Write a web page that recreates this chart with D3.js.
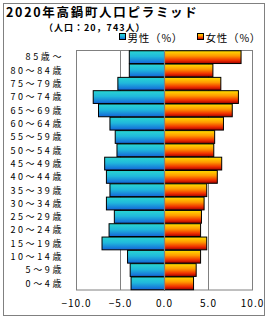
<!DOCTYPE html>
<html>
<head>
<meta charset="utf-8">
<script src="https://cdn.jsdelivr.net/npm/d3@7"></script>
<style>
  body { margin: 0; background: #fff; }
  text { font-family: "Noto Sans CJK JP", sans-serif; }
</style>
</head>
<body>
<svg id="chart" width="270" height="320"></svg>
<script>
const ages = ['85歳～', '80～84歳', '75～79歳', '70～74歳', '65～69歳', '60～64歳', '55～59歳',
  '50～54歳', '45～49歳', '40～44歳', '35～39歳', '30～34歳', '25～29歳', '20～24歳',
  '15～19歳', '10～14歳', '5～9歳', '0～4歳'];
const male = [4.0, 4.0, 5.3, 8.1, 7.5, 6.2, 5.6, 5.4, 6.8, 6.6, 6.2, 6.6, 5.7, 6.3, 7.1, 4.2, 3.9, 3.8];
const female = [8.7, 5.5, 6.4, 8.4, 7.7, 6.7, 5.7, 5.6, 6.5, 6.0, 4.8, 4.5, 4.2, 4.1, 4.8, 4.1, 3.6, 3.3];
const ticks = [-10, -5, 0, 5, 10];

const svg = d3.select('#chart');
const plotL = 76.5, plotR = 252.5, plotT = 50.5, plotB = 290;

const x = d3.scaleLinear().domain([-10, 10]).range([plotL, plotR]);
const y = d3.scaleBand().domain(ages).range([plotT, plotB]).paddingInner(0.04).paddingOuter(0.02);

// gradients
const defs = svg.append('defs');
function grad(id, stops) {
  const g = defs.append('linearGradient').attr('id', id)
    .attr('x1', 0).attr('y1', 0).attr('x2', 0).attr('y2', 1);
  stops.forEach(s => g.append('stop').attr('offset', s[0]).attr('stop-color', s[1]));
}
grad('gm', [[0, '#2ad6d2'], [0.45, '#20b8dc'], [1, '#1464d8']]);
grad('gf', [[0, '#ffe000'], [0.4, '#ff9a00'], [0.75, '#f03000'], [1, '#a00000']]);

// outer frame
svg.append('rect').attr('x', 3.5).attr('y', 3.5).attr('width', 261).attr('height', 312)
  .attr('fill', 'none').attr('stroke', '#808080').attr('stroke-width', 1);

svg.append('text').attr('x', 6).attr('y', 16.5)
  .attr('font-size', 12.5).attr('font-weight', 'bold').attr('letter-spacing', 1.7)
  .text('2020年高鍋町人口ピラミッド');
svg.append('text').attr('x', 44).attr('y', 30.5)
  .attr('font-size', 9).attr('font-weight', 'bold').attr('letter-spacing', 1)
  .text('（人口：20，743人）');

// legend
const legend = [['gm', '男性（%）', 119.5], ['gf', '女性（%）', 197.5]];
legend.forEach(l => {
  svg.append('rect').attr('x', l[2]).attr('y', 33.5).attr('width', 6).attr('height', 6)
    .attr('fill', `url(#${l[0]})`).attr('stroke', '#000');
  svg.append('text').attr('x', l[2] + 8).attr('y', 41.5)
    .attr('font-size', 10.5).attr('letter-spacing', 0.8).text(l[1]);
});

// plot frame and grid
svg.append('rect').attr('x', plotL).attr('y', plotT).attr('width', plotR - plotL).attr('height', plotB - plotT)
  .attr('fill', 'none').attr('stroke', '#808080');
svg.append('g').selectAll('line').data([-5, 5]).join('line')
  .attr('x1', d => x(d)).attr('x2', d => x(d)).attr('y1', plotT).attr('y2', plotB)
  .attr('stroke', '#808080');

// bars
svg.append('g').selectAll('rect').data(ages).join('rect')
  .attr('x', (d, i) => x(-male[i])).attr('y', d => y(d))
  .attr('width', (d, i) => x(0) - x(-male[i])).attr('height', y.bandwidth())
  .attr('fill', 'url(#gm)').attr('stroke', '#000');
svg.append('g').selectAll('rect').data(ages).join('rect')
  .attr('x', x(0)).attr('y', d => y(d))
  .attr('width', (d, i) => x(female[i]) - x(0)).attr('height', y.bandwidth())
  .attr('fill', 'url(#gf)').attr('stroke', '#000');

svg.append('line').attr('x1', x(0)).attr('x2', x(0)).attr('y1', plotT).attr('y2', plotB)
  .attr('stroke', '#808080').attr('stroke-width', 1.2);

// category labels
svg.append('g').selectAll('text').data(ages).join('text')
  .attr('x', 64).attr('y', d => y(d) + y.bandwidth() / 2 + 3.3)
  .attr('text-anchor', 'end').attr('font-size', 9).attr('letter-spacing', 2.6)
  .text(d => d);

// x tick labels
svg.append('g').selectAll('text').data(ticks).join('text')
  .attr('x', d => x(d)).attr('y', 307)
  .attr('text-anchor', 'middle').attr('font-size', 10).attr('letter-spacing', 1)
  .text(d => d3.format('.1f')(d).replace('-', '−'));
</script>
</body>
</html>
